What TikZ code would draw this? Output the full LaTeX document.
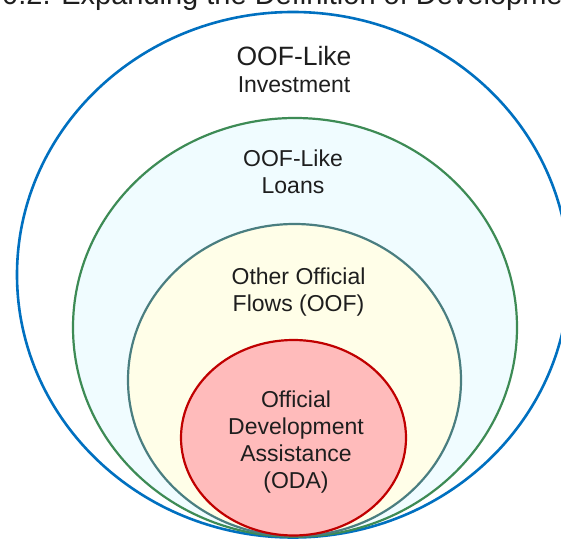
\documentclass[tikz,border=0pt]{standalone}
\usepackage{fontspec}
\setmainfont{Liberation Sans}
\definecolor{invblue}{RGB}{0,112,192}
\definecolor{loangreen}{RGB}{61,139,85}
\definecolor{loanfill}{RGB}{240,252,255}
\definecolor{oofteal}{RGB}{74,126,128}
\definecolor{ooffill}{RGB}{255,254,232}
\definecolor{odared}{RGB}{192,0,0}
\definecolor{odafill}{RGB}{255,187,187}
\definecolor{textgray}{RGB}{30,30,30}
\tikzset{
  flowtext/.style={align=center, inner sep=0pt, text=textgray, font=\fontsize{23}{27}\selectfont},
  ring/.style={line width=2.2pt}
}
\begin{document}
\begin{tikzpicture}[x=1pt,y=1pt]
\useasboundingbox (0,0) rectangle (561,538);

\node[anchor=base west, inner sep=0pt, text=textgray, font=\fontsize{29}{34}\selectfont] (title) at (2,533.5) {0.2. Expanding the Definition of Development};

\draw[ring, line width=2.6pt, invblue, fill=white] (293,263.25) ellipse (276 and 262.75);
\draw[ring, loangreen, fill=loanfill] (295,210.6) ellipse (222 and 209.4);
\draw[ring, oofteal, fill=ooffill] (294.5,157.9) ellipse (166.5 and 156.1);
\draw[ring, odared, fill=odafill] (293.5,100.25) ellipse (112.5 and 97.75);

\node[flowtext, font=\fontsize{26.5}{30}\selectfont] (invest) at (294,468) {OOF-Like\\[-3pt]{\fontsize{23}{27}\selectfont Investment}};
\node[flowtext] (loans) at (293,366.5) {OOF-Like\\Loans};
\node[flowtext] (oof) at (298.5,245.5) {Other Official\\Flows (OOF)};
\node[flowtext] (oda) at (296,95.5) {Official\\Development\\Assistance\\(ODA)};
\end{tikzpicture}
\end{document}
